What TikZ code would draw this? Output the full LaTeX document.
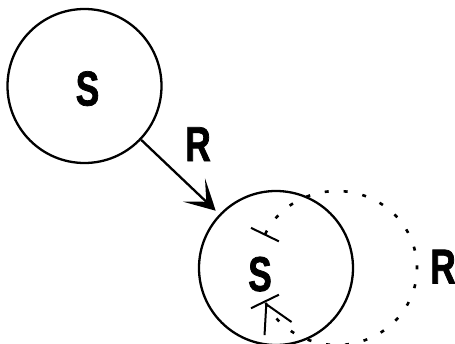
\documentclass[tikz,border=0pt]{standalone}
\usepackage{fontspec}
\newfontfamily\labelfont[FakeStretch=0.72,FakeBold=1.5]{Liberation Sans Bold}
\usetikzlibrary{arrows.meta,positioning}

\begin{document}
\begin{tikzpicture}[x=1pt,y=1pt,
    circ/.style={draw,circle,line width=2.3pt,minimum size=154pt,inner sep=0pt},
    lab/.style={font=\labelfont\fontsize{49}{49}\selectfont,inner sep=0pt,text height=35pt,text depth=0pt},
    arrow/.style={-{Stealth[length=30pt,width=32pt,inset=17pt]},line width=2.3pt,shorten >=5pt},
    dotloop/.style={{Bar[width=31pt,line width=2pt]}-{Straight Barb[length=27pt,width=30pt,line width=2pt]Bar[width=31pt,line width=2pt]},line width=2.6pt,dash pattern=on 4pt off 15pt}
  ]
  \useasboundingbox (0,0) rectangle (455,-343);
  \node[circ] (s1) at (84.5,-86) {};
  \node[circ] (s2) at (276,-268) {};
  \node[lab] (s1lab) at (87.5,-88) {S};
  \node[lab] (s2lab) at (260,-273.5) {S};
  \node[lab] (r1) at (198,-143.5) {R};
  \node[lab] (r2) at (443,-266) {R};
  \draw[arrow] (s1) -- (s2);
  % self transition, dotted
  \coordinate (ls) at (264.5,-235.5);
  \draw[dotloop] (ls) arc[start angle=155,end angle=-155,x radius=80,y radius=77];
\end{tikzpicture}
\end{document}
